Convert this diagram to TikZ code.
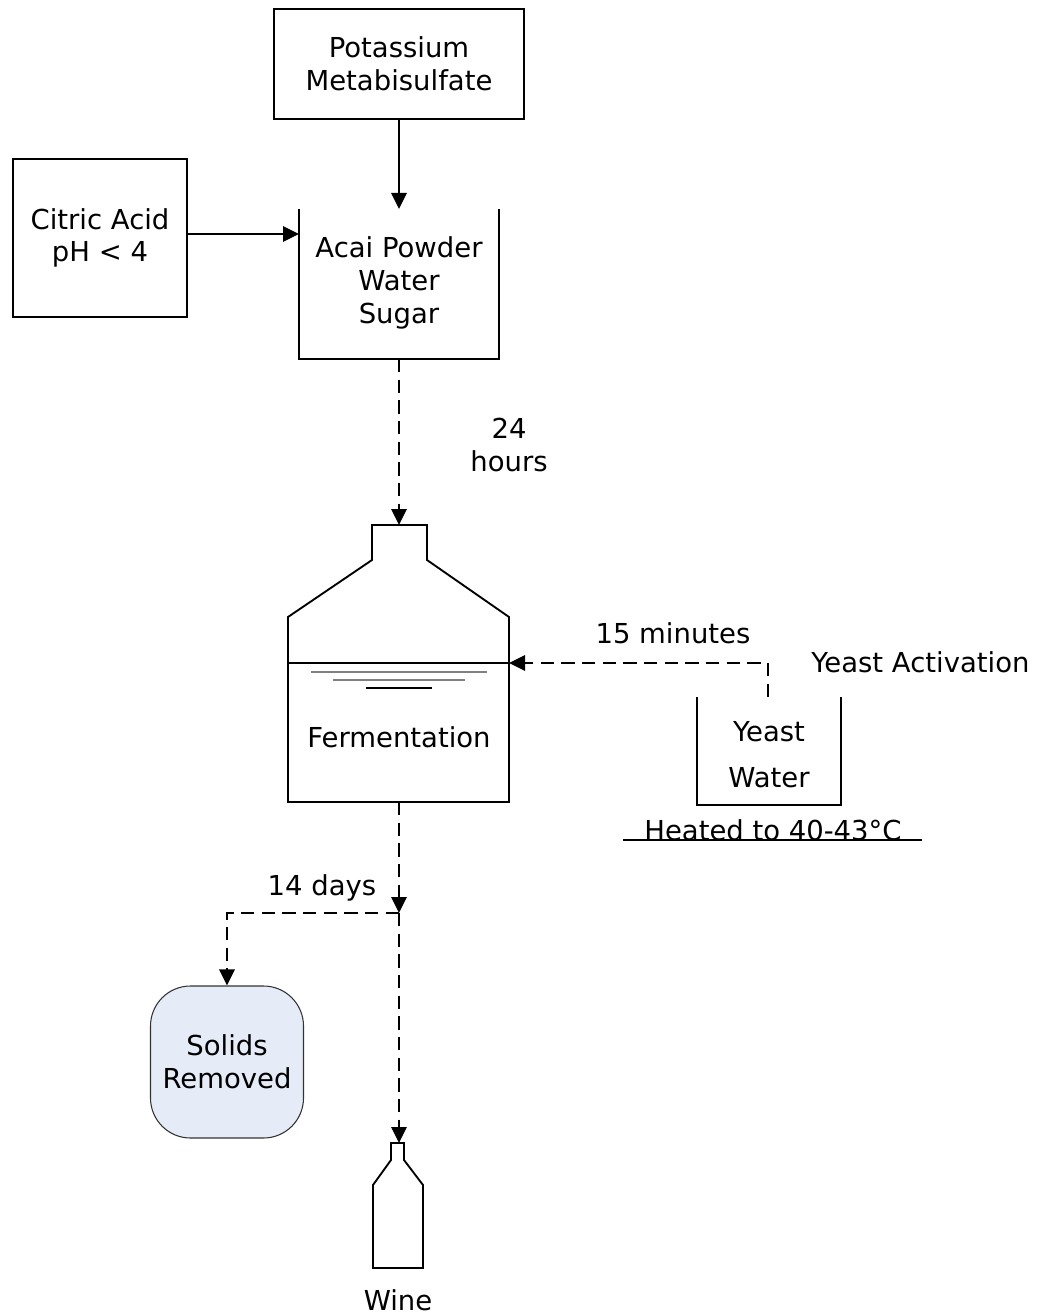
\documentclass[tikz,border=0pt]{standalone}
\usepackage{fontspec}
\setmainfont{DejaVu Sans}
\usetikzlibrary{arrows.meta}
\definecolor{solidfill}{RGB}{230,236,247}
\begin{document}
\begin{tikzpicture}[x=0.75pt,y=-0.75pt,
  txt/.style={font=\fontsize{20.6}{24.6}\selectfont, align=center, inner sep=0pt},
  box/.style={txt, draw, line width=1.4pt},
  outline/.style={line width=1.4pt, line join=miter},
  flow/.style={-{Triangle[length=12pt,width=11.5pt]}, line width=1.4pt},
  dflow/.style={flow, dash pattern=on 10pt off 5.5pt}]
\useasboundingbox (0,0) rectangle (1038,1316);

% top boxes
\node[box, minimum width=187.5pt, minimum height=82.5pt] (pms) at (399,64) {Potassium\\Metabisulfate};
\node[box, minimum width=130.5pt, minimum height=118.5pt] (citric) at (100,238) {Citric Acid\\pH < 4};

% acai tank
\coordinate (acaiTop) at (399,209);
\coordinate (acaiLeft) at (299,234);
\coordinate (acaiBot) at (399,359);
\draw[outline] (299,209) -- (299,359) -- (499,359) -- (499,209);
\node[txt] (acai) at (399,283) {Acai Powder\\Water\\Sugar};

\draw[flow] (pms.south) -- (acaiTop);
\draw[flow] (citric.east |- acaiLeft) -- (acaiLeft);

% fermenter
\coordinate (fTop) at (399,525);
\coordinate (fRight) at (509,663);
\coordinate (fBot) at (399,802);
\draw[outline] (372,525) -- (427,525) -- (427,560) -- (509,617) -- (509,802)
  -- (288,802) -- (288,617) -- (372,560) -- cycle;
\draw[line width=1pt] (288,663) -- (509,663);
\draw[line width=1pt, gray] (311,672) -- (487,672);
\draw[line width=1pt, gray] (333,680) -- (465,680);
\draw[line width=1pt] (366,688) -- (432,688);
\node[txt] (ferm) at (399,737) {Fermentation};

\draw[dflow] (acaiBot) -- (fTop);
\node[txt] (hours) at (509,445) {24\\hours};

% yeast tank
\coordinate (yTop) at (768,697);
\draw[outline] (697,697) -- (697,805) -- (841,805) -- (841,697);
\node[txt] (yeast) at (769,732) {Yeast};
\node[txt] (ywater) at (769,778) {Water};
\node[txt] (heated) at (773,830) {Heated to 40-43°C};
\draw[line width=1.2pt] (623,840) -- (922,840);
\node[txt, anchor=west] (yact) at (811,662) {Yeast Activation};
\node[txt] (mins) at (673,633) {15 minutes};
\draw[dflow] (yTop) |- (fRight);

% split
\coordinate (junc) at (399,913);
\coordinate (bTop) at (399,1143);
\draw[dflow] (fBot) -- (junc);
\node[txt] (days) at (322,888) {14 days};
\node[txt, draw=black!80, line width=0.8pt, fill=solidfill, rounded corners=30pt,
  minimum width=114.75pt, minimum height=114pt] (solids) at (227,1062) {Solids\\Removed};
\draw[dflow] (junc) -| (solids.north);
\draw[dflow] (junc) -- (bTop);

% bottle
\draw[outline] (391,1143) -- (404,1143) -- (404,1160) -- (423,1185) -- (423,1268)
  -- (373,1268) -- (373,1185) -- (391,1160) -- cycle;
\node[txt] (wine) at (398,1300) {Wine};
\end{tikzpicture}
\end{document}
